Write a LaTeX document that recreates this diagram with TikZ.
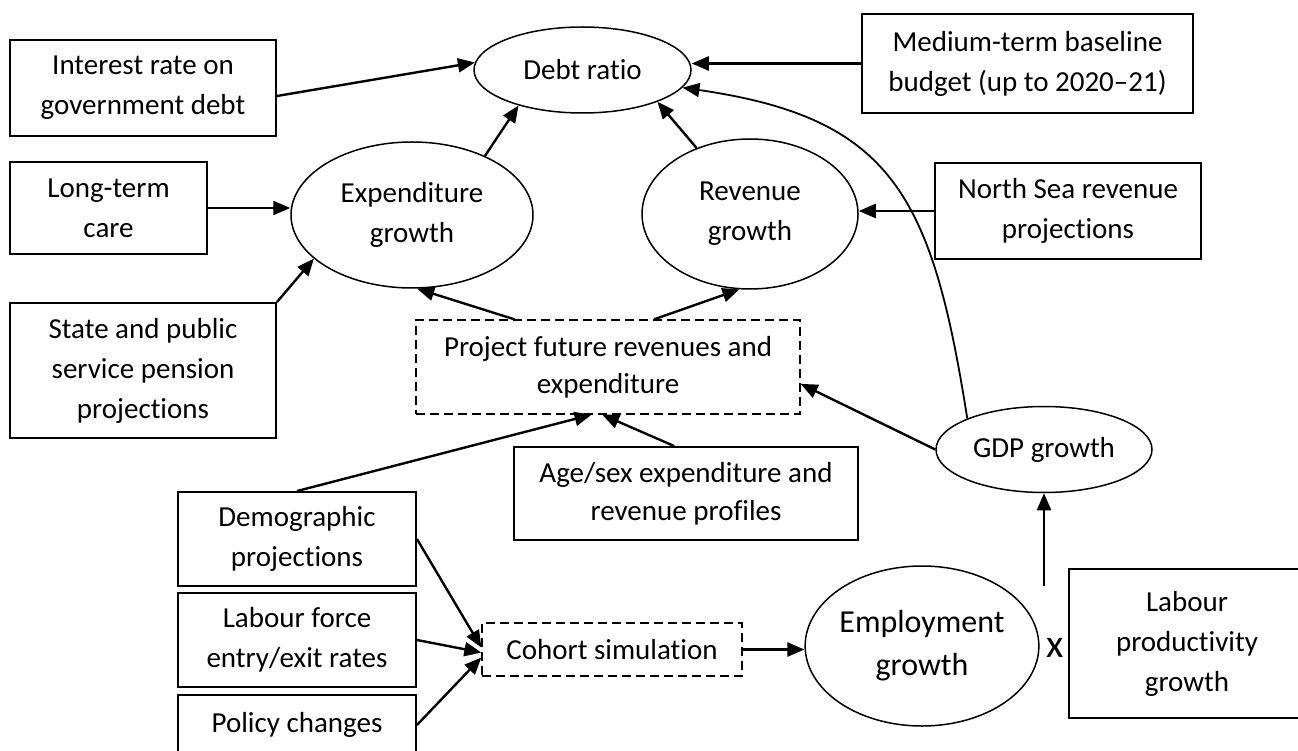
\documentclass[tikz,border=0pt]{standalone}
\usepackage{fontspec}
\setmainfont[Ligatures=NoCommon]{Carlito}
\usepackage{tikz}
\usetikzlibrary{shapes,arrows.meta}

\begin{document}
\begin{tikzpicture}[x=1pt,y=-1pt]
  \tikzset{BoxStyle/.style = {
    shape         = rectangle,
    draw          = black,
    fill          = white,
    line width    = 1.9pt,
    text          = black,
    align         = center,
    inner sep     = 0pt,
    font          = \fontsize{29}{40}\selectfont
    }
  }
  \tikzset{DashBoxStyle/.style = {
    BoxStyle,
    line width    = 1.3pt,
    dash pattern  = on 9pt off 5pt,
    font          = \fontsize{29}{37}\selectfont
    }
  }
  \tikzset{EllipseStyle/.style = {
    shape         = ellipse,
    draw          = black,
    fill          = white,
    line width    = 1.5pt,
    text          = black,
    align         = center,
    inner sep     = 0pt,
    font          = \fontsize{29}{40}\selectfont
    }
  }
  \tikzset{ArrowStyle/.style = {
    draw          = black,
    line width    = 2.4pt,
    -{Triangle[length=17pt,width=14pt]}
    }
  }
  \tikzset{CurveStyle/.style = {
    ArrowStyle,
    line width    = 1.8pt
    }
  }

  \useasboundingbox[fill=white] (0,0) rectangle (1298,751);

	\node[EllipseStyle, minimum width=217pt, minimum height=86pt](Debt) at (582.5,70) {Debt ratio};
	\node[BoxStyle, minimum width=266pt, minimum height=96pt](Interest) at (143,88) {Interest rate on\\government debt};
	\node[BoxStyle, minimum width=331pt, minimum height=99pt](Medium) at (1027.5,63.5) {Medium-term baseline\\budget (up to 2020--21)};
	\node[BoxStyle, minimum width=197pt, minimum height=92pt](LongTerm) at (108.5,208) {Long-term\\care};
	\node[EllipseStyle, minimum width=242pt, minimum height=146pt](Exp) at (412,215) {Expenditure\\growth};
	\node[EllipseStyle, minimum width=216pt, minimum height=150pt](Rev) at (750,214) {Revenue\\growth};
	\node[BoxStyle, minimum width=266pt, minimum height=96pt](NorthSea) at (1068,211) {North Sea revenue\\projections};
	\node[BoxStyle, minimum width=266pt, minimum height=135pt](State) at (143,370.5) {State and public\\service pension\\projections};
	\node[DashBoxStyle, minimum width=384pt, minimum height=94pt](Project) at (608,367) {Project future revenues and\\expenditure};
	\node[BoxStyle, minimum width=344pt, minimum height=93pt, font=\fontsize{29}{38}\selectfont](AgeSex) at (686,493.5) {Age/sex expenditure and\\revenue profiles};
	\node[EllipseStyle, minimum width=216pt, minimum height=86pt](GDP) at (1044,449.5) {GDP growth};
	\node[BoxStyle, minimum width=238pt, minimum height=94pt](Demog) at (297,539) {Demographic\\projections};
	\node[BoxStyle, minimum width=238pt, minimum height=94pt](Labour) at (297,640) {Labour force\\entry/exit rates};
	\node[BoxStyle, minimum width=238pt, minimum height=60pt](Policy) at (297,725) {Policy changes};
	\node[DashBoxStyle, minimum width=260pt, minimum height=53pt](Cohort) at (612,649.5) {Cohort simulation};
	\node[EllipseStyle, minimum width=232pt, minimum height=160pt, font=\fontsize{32}{43}\selectfont](Employ) at (922,646) {Employment\\growth};
	\node[font=\fontsize{40}{40}\selectfont, inner sep=0pt](Times) at (1055,648) {x};
	\node[BoxStyle, minimum width=236pt, minimum height=149pt](Productivity) at (1187,643.5) {Labour\\productivity\\growth};
	\coordinate (Prod) at (1044,586);

	\draw[ArrowStyle]([yshift=-8pt]Interest.east) -- (Debt.176);
	\draw[ArrowStyle](Medium.west) -- (Debt.east |- Medium.west);
	\draw[ArrowStyle](Exp.39) -- (Debt.209);
	\draw[ArrowStyle](Rev.129) -- (Debt.-23);
	\draw[CurveStyle](GDP.158) .. controls (932,195) and (892,118) .. (Debt.-10);

	\draw[ArrowStyle](LongTerm.east) -- (LongTerm.east -| Exp.west);
	\draw[ArrowStyle](State.north east) -- (Exp.204);
	\draw[ArrowStyle](Project.153) -- (Exp.-86);
	\draw[ArrowStyle](Project.46) -- (Rev.-98);
	\draw[ArrowStyle](NorthSea.west) -- (NorthSea.west -| Rev.east);

	\draw[ArrowStyle](Demog.north) -- (Project.251);
	\draw[ArrowStyle](AgeSex.104) -- (Project.263);
	\draw[ArrowStyle](GDP.west) -- (Project.-5);

	\draw[ArrowStyle](Demog.east) -- ([yshift=2pt]Cohort.west);
	\draw[ArrowStyle](Labour.east) -- ([yshift=-3pt]Cohort.west);
	\draw[ArrowStyle](Policy.east) -- ([yshift=-8pt]Cohort.west);
	\draw[ArrowStyle](Cohort.east) -- (Cohort.east -| Employ.west);
	\draw[ArrowStyle](Prod) -- (GDP.south);

  \end{tikzpicture}
\end{document}
